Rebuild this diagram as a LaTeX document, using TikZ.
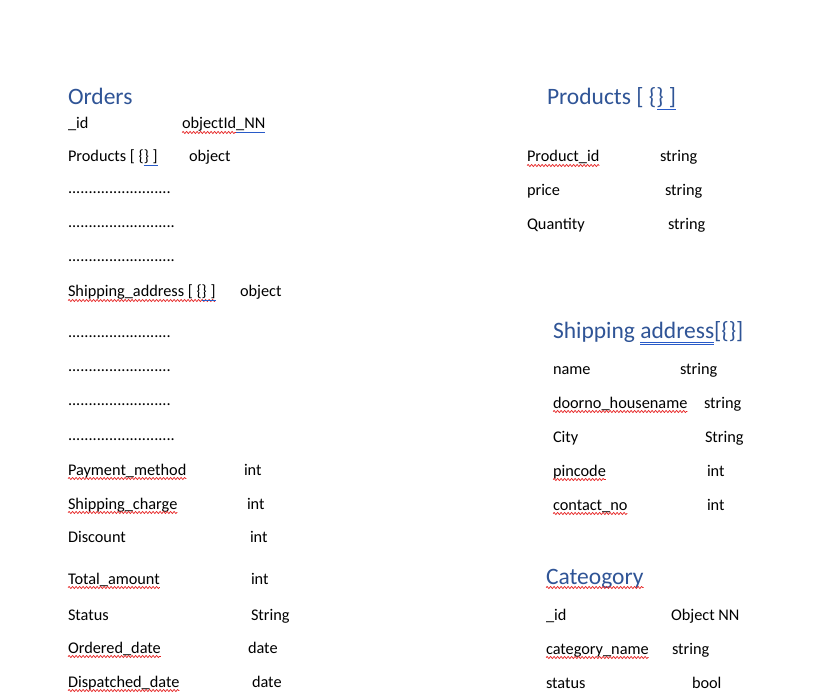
\documentclass[tikz,border=0pt]{standalone}
\usepackage{fontspec}
\setmainfont{Carlito}
\usetikzlibrary{decorations.pathmorphing}
\definecolor{headblue}{RGB}{47,84,150}
\definecolor{linkblue}{RGB}{40,90,200}
\definecolor{squigred}{RGB}{230,30,30}
\tikzset{
  txt/.style={anchor=base west,inner sep=0pt,outer sep=0pt,font=\fontsize{16.3}{19}\selectfont,text=black},
  head/.style={anchor=base west,inner sep=0pt,outer sep=0pt,font=\fontsize{23.5}{28}\selectfont,text=headblue},
  squig/.style={draw=squigred,line width=0.7pt,decorate,decoration={snake,amplitude=1pt,segment length=3.5pt}},
  bline/.style={draw=linkblue,line width=0.8pt}
}
\newcommand{\dotsA}{.........................}
\newcommand{\dotsB}{..........................}
\begin{document}
\begin{tikzpicture}[x=1pt,y=-1pt]
\useasboundingbox[fill=white] (0,0) rectangle (827,700);
% ---------- Orders ----------
\node[head] (oh) at (68,105) {Orders};
\node[txt] (o1) at (68,129) {\_id};
\node[txt] (o1t) at (182,129) {objectId};
\node[txt] (o1u) at (o1t.base east) {\_NN};
\node[txt] (o2) at (68,162) {Products [ \{\} ]};
\node[txt] (o2t) at (189,162) {object};
\node[txt] (o3) at (68,194) {\dotsA};
\node[txt] (o4) at (68,228) {\dotsB};
\node[txt] (o5) at (68,262) {\dotsB};
\node[txt] (o6) at (68,297) {Shipping\_address [ \{\} ]};
\node[txt] (o6t) at (240,297) {object};
\node[txt] (o7) at (68,338) {\dotsA};
\node[txt] (o8) at (68,372) {\dotsA};
\node[txt] (o9) at (68,406) {\dotsA};
\node[txt] (o10) at (68,440) {\dotsB};
\node[txt] (o11) at (68,475) {Payment\_method};
\node[txt] (o11t) at (244,475) {int};
\node[txt] (o12) at (68,509) {Shipping\_charge};
\node[txt] (o12t) at (247,509) {int};
\node[txt] (o13) at (68,542) {Discount};
\node[txt] (o13t) at (250,542) {int};
\node[txt] (o14) at (68,584) {Total\_amount};
\node[txt] (o14t) at (251,584) {int};
\node[txt] (o15) at (68,620) {Status};
\node[txt] (o15t) at (251,620) {String};
\node[txt] (o16) at (68,653) {Ordered\_date};
\node[txt] (o16t) at (248,653) {date};
\node[txt] (o17) at (68,687) {Dispatched\_date};
\node[txt] (o17t) at (252,687) {date};
% ---------- Products ----------
\node[head] (ph) at (547,105) {Products [ \{\} ]};
\node[txt] (p1) at (527,162) {Product\_id};
\node[txt] (p1t) at (660,162) {string};
\node[txt] (p2) at (527,196) {price};
\node[txt] (p2t) at (665,196) {string};
\node[txt] (p3) at (527,230) {Quantity};
\node[txt] (p3t) at (668,230) {string};
% ---------- Shipping address ----------
\node[head] (sh1) at (553,339) {Shipping};
\node[head,anchor=base west] (sh2) at ([xshift=5.3pt]sh1.base east) {address};
\node[head,anchor=base west] (sh3) at (sh2.base east) {[\{\}]};
\node[txt] (s1) at (553,374) {name};
\node[txt] (s1t) at (680,374) {string};
\node[txt] (s2) at (553,408) {doorno\_housename};
\node[txt] (s2t) at (704,408) {string};
\node[txt] (s3) at (553,442) {City};
\node[txt] (s3t) at (705,442) {String};
\node[txt] (s4) at (553,476) {pincode};
\node[txt] (s4t) at (707,476) {int};
\node[txt] (s5) at (553,510) {contact\_no};
\node[txt] (s5t) at (707,510) {int};
% ---------- Category ----------
\node[head] (ch) at (546,584) {Cateogory};
\node[txt] (c1) at (546,620) {\_id};
\node[txt] (c1t) at (671,620) {Object NN};
\node[txt] (c2) at (546,654) {category\_name};
\node[txt] (c2t) at (672,654) {string};
\node[txt] (c3) at (546,688) {status};
\node[txt] (c3t) at (692,688) {bool};
% ---------- spell-check squiggles ----------
\foreach \n in {o1t,o6,o11,o12,o14,o16,o17,p1,s2,s4,s5,c2,ch}
  \path[squig] ([yshift=-3.5pt]\n.base west) -- ([yshift=-3.5pt]\n.base east);
% ---------- blue underlines ----------
\path[bline] ([yshift=-3pt]o1u.base west) -- ([yshift=-3pt]o1u.base east);
\path[bline] ([xshift=-14pt,yshift=-3pt]o2.base east) -- ([yshift=-3pt]o2.base east);
\path[bline] ([xshift=-14pt,yshift=-3pt]o6.base east) -- ([yshift=-3pt]o6.base east);
\path[bline] ([xshift=-19pt,yshift=-4pt]ph.base east) -- ([yshift=-4pt]ph.base east);
\path[bline] ([yshift=-3.5pt]sh2.base west) -- ([yshift=-3.5pt]sh2.base east);
\path[bline] ([yshift=-5.5pt]sh2.base west) -- ([yshift=-5.5pt]sh2.base east);
\end{tikzpicture}
\end{document}
